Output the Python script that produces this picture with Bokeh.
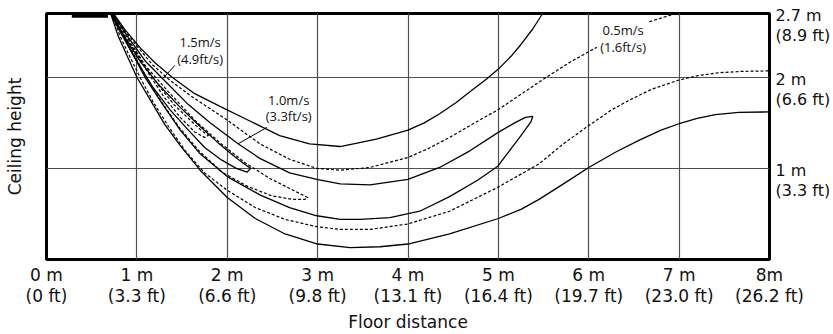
from bokeh.plotting import figure
from bokeh.models import FixedTicker, LinearAxis, Range1d
from bokeh.core.properties import value
from bokeh.embed import file_html
from bokeh.resources import INLINE

nan = float("nan")

# Axis ticks and labels (metres with feet in brackets)
x_ticks = [0, 1, 2, 3, 4, 5, 6, 7, 8]
x_tick_labels = ["0 m\n(0 ft)", "1 m\n(3.3 ft)", "2 m\n(6.6 ft)", "3 m\n(9.8 ft)",
                 "4 m\n(13.1 ft)", "5 m\n(16.4 ft)", "6 m\n(19.7 ft)", "7 m\n(23.0 ft)",
                 "8m\n(26.2 ft)"]
y_ticks = [1, 2, 2.7]
y_tick_labels = ["1 m\n(3.3 ft)", "2 m\n(6.6 ft)", "2.7 m\n(8.9 ft)"]

# Ceiling diffuser outlet
diffuser_x = [0.28, 0.68]
diffuser_y = [2.68, 2.68]

# Solid contours -------------------------------------------------------------
# 0.5 m/s, upper branch (diffuser -> ceiling)
s05_up_x = [0.74, 0.87, 1.04, 1.20, 1.39, 1.64, 1.92, 2.25, 2.58, 2.91, 3.25, 3.65,
            4.00, 4.18, 4.35, 4.53, 4.71, 4.87, 5.01, 5.14, 5.25, 5.38, 5.49]
s05_up_y = [2.70, 2.52, 2.32, 2.16, 2.00, 1.82, 1.68, 1.52, 1.36, 1.27, 1.24, 1.32,
            1.42, 1.50, 1.60, 1.72, 1.86, 1.98, 2.10, 2.23, 2.36, 2.53, 2.70]
# 0.5 m/s, lower branch (diffuser -> far wall)
s05_lo_x = [0.71, 0.79, 0.89, 1.00, 1.15, 1.31, 1.48, 1.70, 2.00, 2.31, 2.64, 3.00,
            3.36, 3.69, 4.00, 4.46, 5.00, 5.25, 5.45, 5.72, 6.00, 6.30, 6.56, 6.80,
            7.00, 7.20, 7.40, 7.66, 8.00]
s05_lo_y = [2.70, 2.46, 2.24, 2.00, 1.75, 1.48, 1.25, 0.98, 0.68, 0.45, 0.28, 0.17,
            0.13, 0.14, 0.17, 0.28, 0.45, 0.55, 0.66, 0.83, 1.01, 1.18, 1.31, 1.42,
            1.49, 1.55, 1.59, 1.615, 1.62]
# 1.0 m/s closed contour
s10_x = [0.73, 0.91, 1.10, 1.30, 1.57, 1.81, 2.12, 2.36, 2.69, 2.99, 3.25, 3.58,
         4.00, 4.35, 4.68, 4.99, 5.18, 5.30, 5.38,
         5.36, 5.25, 5.12, 4.99, 4.77, 4.46, 4.13, 3.80, 3.47, 3.25, 2.99, 2.69,
         2.36, 2.00, 1.70, 1.48, 1.28, 1.09, 0.93, 0.72]
s10_y = [2.70, 2.43, 2.17, 1.97, 1.70, 1.50, 1.27, 1.11, 0.95, 0.88, 0.83, 0.82,
         0.88, 1.01, 1.19, 1.39, 1.50, 1.56, 1.57,
         1.51, 1.36, 1.19, 1.02, 0.87, 0.69, 0.53, 0.46, 0.44, 0.44, 0.48, 0.57,
         0.71, 0.91, 1.16, 1.42, 1.71, 2.00, 2.30, 2.70]
# 1.5 m/s closed contour
s15_x = [0.72, 0.87, 1.04, 1.24, 1.48, 1.70, 1.90, 2.08, 2.20, 2.26,
         2.22, 2.10, 1.94, 1.75, 1.57, 1.37, 1.17, 0.98, 0.82, 0.71]
s15_y = [2.70, 2.43, 2.17, 1.92, 1.67, 1.46, 1.28, 1.13, 1.04, 1.00,
         0.96, 1.00, 1.09, 1.23, 1.42, 1.64, 1.90, 2.21, 2.49, 2.70]

# Dashed contours ------------------------------------------------------------
d05_up_x = [0.73, 0.86, 1.02, 1.17, 1.35, 1.59, 2.00, 2.36, 2.69, 2.99, 3.25, 3.58,
            4.00, 4.23, 4.46, 4.72, 4.99, 5.26, 5.53, 5.80, 6.09, nan, 6.67, 6.96]
d05_up_y = [2.70, 2.52, 2.32, 2.14, 1.98, 1.80, 1.53, 1.27, 1.10, 1.00, 0.98, 1.01,
            1.12, 1.22, 1.34, 1.49, 1.64, 1.82, 2.00, 2.17, 2.33, nan, 2.61, 2.70]
d05_lo_x = [0.72, 0.81, 0.92, 1.04, 1.18, 1.35, 1.53, 1.75, 2.00, 2.31, 2.64, 2.99,
            3.25, 3.58, 4.00, 4.46, 4.99, 5.45, 5.72, 6.00, 6.25, 6.45, 6.70, 7.00,
            7.22, 7.44, 7.70, 8.00]
d05_lo_y = [2.70, 2.46, 2.23, 1.99, 1.73, 1.46, 1.20, 0.95, 0.76, 0.57, 0.44, 0.36,
            0.33, 0.33, 0.39, 0.53, 0.79, 1.05, 1.27, 1.47, 1.64, 1.75, 1.87, 1.97,
            2.02, 2.05, 2.065, 2.07]
d10_x = [0.73, 0.91, 1.10, 1.35, 1.64, 1.92, 2.20, 2.47, 2.69, 2.83, 2.89,
         2.86, 2.72, 2.49, 2.23, 1.94, 1.68, 1.46, 1.26, 1.06, 0.88, 0.71]
d10_y = [2.70, 2.41, 2.12, 1.84, 1.53, 1.28, 1.06, 0.89, 0.78, 0.71, 0.68,
         0.66, 0.66, 0.70, 0.80, 0.96, 1.20, 1.46, 1.75, 2.08, 2.41, 2.70]
d15_x = [0.72, 0.88, 1.06, 1.24, 1.42, 1.59, 1.71, 1.79,
         1.75, 1.64, 1.48, 1.31, 1.15, 0.97, 0.82, 0.71]
d15_y = [2.70, 2.43, 2.17, 1.91, 1.69, 1.53, 1.42, 1.36,
         1.34, 1.40, 1.56, 1.77, 2.01, 2.30, 2.52, 2.70]

# Velocity annotations
note_x = [1.70, 1.70, 2.68, 2.68, 6.38, 6.38]
note_y = [2.39, 2.20, 1.75, 1.57, 2.52, 2.33]
note_text = ["1.5m/s", "(4.9ft/s)", "1.0m/s", "(3.3ft/s)", "0.5m/s", "(1.6ft/s)"]
leader_x0 = [1.42, 2.44]
leader_y0 = [2.13, 1.45]
leader_x1 = [1.29, 2.12]
leader_y1 = [1.99, 1.27]

TEXT_FONT = "DejaVu Sans"
TEXT_COLOR = "#111111"

p = figure(width=833, height=334, x_range=Range1d(0, 8), y_range=Range1d(0, 2.7),
           output_backend="svg", toolbar_location=None,
           min_border_left=46, min_border_right=62, min_border_top=13,
           min_border_bottom=75, background_fill_color="white",
           border_fill_color="white")

p.outline_line_color = "black"
p.outline_line_width = 3


def plain_axis(ax):
    ax.axis_line_color = None
    ax.major_tick_line_color = None
    ax.minor_tick_line_color = None
    ax.major_tick_out = 0
    ax.major_tick_in = 0
    ax.major_label_text_font = TEXT_FONT
    ax.major_label_text_color = TEXT_COLOR
    ax.axis_label_text_font = TEXT_FONT
    ax.axis_label_text_font_size = "17px"
    ax.axis_label_text_font_style = "normal"
    ax.axis_label_text_color = TEXT_COLOR


# Bottom axis: floor distance
xa = p.xaxis[0]
plain_axis(xa)
xa.ticker = FixedTicker(ticks=x_ticks)
xa.major_label_overrides = {t: s for t, s in zip(x_ticks, x_tick_labels)}
xa.major_label_standoff = 5
xa.major_label_text_font_size = "17px"
xa.major_label_text_line_height = 1.05
xa.axis_label = "Floor distance"
xa.axis_label_standoff = 3

# Left axis: only the title
ya = p.yaxis[0]
plain_axis(ya)
ya.ticker = FixedTicker(ticks=[])
ya.major_label_standoff = 0
ya.axis_label = "Ceiling height"
ya.axis_label_standoff = 22

# Right axis: ceiling heights; the range is offset so the metre line of
# each two-line label sits on its grid line
p.extra_y_ranges = {"heights": Range1d(0.132, 2.832)}
ra = LinearAxis(y_range_name="heights", ticker=FixedTicker(ticks=y_ticks))
plain_axis(ra)
ra.major_label_overrides = {t: s for t, s in zip(y_ticks, y_tick_labels)}
ra.major_label_standoff = 6
ra.major_label_text_font_size = "16px"
ra.major_label_text_line_height = 1.05
ra.major_label_text_align = "left"
p.add_layout(ra, "right")

# Grid
p.xgrid.ticker = FixedTicker(ticks=x_ticks[1:-1])
p.ygrid.ticker = FixedTicker(ticks=y_ticks[:-1])
for g in (p.xgrid, p.ygrid):
    g.grid_line_color = "#505050"
    g.grid_line_width = 1.2
    g.grid_line_alpha = 1.0

# Diffuser
p.line(diffuser_x, diffuser_y, line_color="black", line_width=5)

# Airflow contours
solid = dict(line_color="black", line_width=1.3, line_join="round")
dashed = dict(line_color="black", line_width=1.2, line_dash="3 2", line_join="round")
p.line(s05_up_x, s05_up_y, **solid)
p.line(s05_lo_x, s05_lo_y, **solid)
p.line(s10_x, s10_y, **solid)
p.line(s15_x, s15_y, **solid)
p.line(d05_up_x, d05_up_y, **dashed)
p.line(d05_lo_x, d05_lo_y, **dashed)
p.line(d10_x, d10_y, **dashed)
p.line(d15_x, d15_y, **dashed)

p.segment(leader_x0, leader_y0, leader_x1, leader_y1, line_color="black", line_width=1)
p.text(note_x, note_y, text=note_text, text_font=value("Open Sans"),
       text_font_size=value("13px"), text_align="center", text_baseline="middle",
       text_color="#111111")

open("out.html", "w").write(file_html(p, INLINE))
